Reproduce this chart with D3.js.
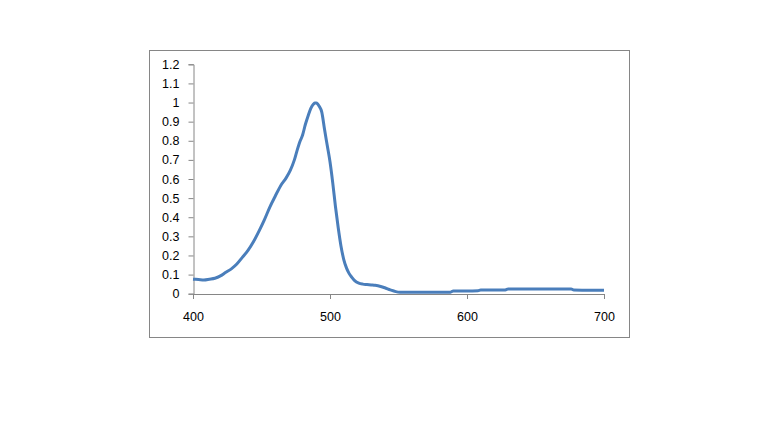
<!DOCTYPE html>
<html>
<head>
<meta charset="utf-8">
<script src="https://cdn.jsdelivr.net/npm/d3@7"></script>
<style>
  html, body { margin: 0; padding: 0; background: #fff; }
  svg { display: block; }
  text { font-family: "Liberation Sans", Arial, sans-serif; font-size: 12.5px; fill: #000; }
</style>
</head>
<body>
<svg id="chart" width="768" height="432"></svg>
<script>
// Wavelength (nm)
const wavelengths = [400, 404, 408, 412, 416, 420, 424, 428, 432, 436, 440, 444, 448, 452, 456, 460, 464, 468, 471, 474, 476, 478, 480, 482, 484, 486, 488, 489, 490, 491, 492, 494, 496, 498, 500, 502, 504, 506, 508, 510, 512, 514, 516, 518, 521, 524, 527, 530, 533, 537, 540, 544, 548, 551, 560, 570, 580, 588, 590, 600, 608, 610, 620, 628, 630, 640, 650, 660, 670, 676, 678, 690, 700];
// Normalised intensity
const intensities = [0.076, 0.074, 0.072, 0.076, 0.081, 0.093, 0.112, 0.130, 0.155, 0.190, 0.225, 0.270, 0.325, 0.385, 0.452, 0.510, 0.565, 0.606, 0.645, 0.700, 0.750, 0.795, 0.830, 0.885, 0.930, 0.970, 0.992, 0.998, 0.998, 0.992, 0.982, 0.950, 0.860, 0.775, 0.690, 0.580, 0.455, 0.345, 0.250, 0.180, 0.135, 0.105, 0.085, 0.068, 0.055, 0.050, 0.048, 0.046, 0.044, 0.038, 0.031, 0.020, 0.011, 0.008, 0.007, 0.007, 0.007, 0.008, 0.014, 0.014, 0.015, 0.019, 0.019, 0.020, 0.025, 0.025, 0.025, 0.025, 0.025, 0.025, 0.019, 0.018, 0.018];
const xTicks = [400, 500, 600, 700];
const yTicks = [0, 0.1, 0.2, 0.3, 0.4, 0.5, 0.6, 0.7, 0.8, 0.9, 1, 1.1, 1.2];

const svg = d3.select("#chart");

// outer chart border
svg.append("rect")
  .attr("x", 149.5).attr("y", 50.5)
  .attr("width", 480).attr("height", 287)
  .attr("fill", "#fff").attr("stroke", "#868686").attr("stroke-width", 1);

const x = d3.scaleLinear().domain([400, 700]).range([193, 604]);
const y = d3.scaleLinear().domain([0, 1.2]).range([293.7, 64.3]);

const axisColor = "#868686";

// Y axis
const yAxis = svg.append("g")
  .attr("transform", "translate(193.5,0)")
  .call(d3.axisLeft(y).tickValues(yTicks).tickSize(5).tickPadding(9)
    .tickFormat(d => d3.format("~g")(d)));
yAxis.select(".domain").attr("stroke", axisColor);
yAxis.selectAll(".tick line").attr("stroke", axisColor);
yAxis.selectAll("text").style("font-family", "Liberation Sans, Arial, sans-serif").style("font-size", "12.5px").attr("fill", "#000");

// X axis
const xAxis = svg.append("g")
  .attr("transform", "translate(0,294)")
  .call(d3.axisBottom(x).tickValues(xTicks).tickSize(5).tickPadding(13).tickSizeOuter(0));
xAxis.select(".domain").attr("stroke", axisColor);
xAxis.selectAll(".tick line").attr("stroke", axisColor);
xAxis.selectAll("text").style("font-family", "Liberation Sans, Arial, sans-serif").style("font-size", "12.5px").attr("fill", "#000");

// line
const data = wavelengths.map((w, i) => ({ w, v: intensities[i] }));
const line = d3.line().x(d => x(d.w)).y(d => y(d.v)).curve(d3.curveMonotoneX);
svg.append("path")
  .datum(data)
  .attr("d", line)
  .attr("fill", "none")
  .attr("stroke", "#4a7ebb")
  .attr("stroke-width", 3)
  .attr("stroke-linejoin", "round");
</script>
</body>
</html>
